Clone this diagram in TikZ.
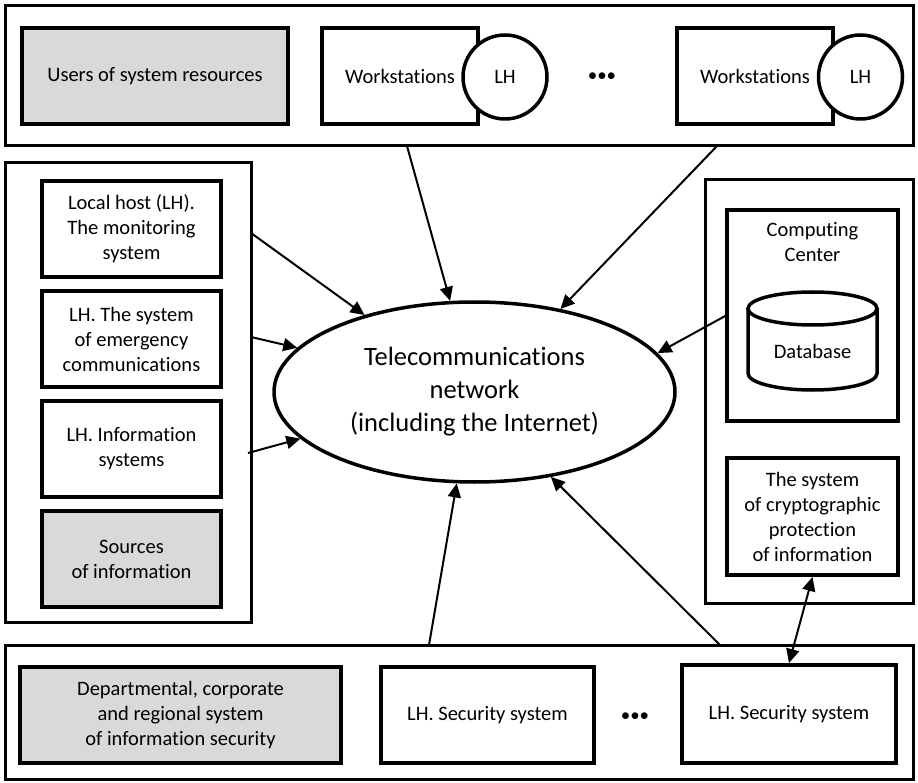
\documentclass[tikz,border=0pt]{standalone}
\usepackage{fontspec}
\setmainfont{Carlito}[Ligatures=NoCommon]
\usetikzlibrary{arrows.meta,shapes.geometric}
\definecolor{boxgray}{HTML}{D9D9D9}
\begin{document}
\begin{tikzpicture}[x=1pt,y=-1pt,
  outerbox/.style={draw,line width=3pt,inner sep=0pt,fill=white},
  innerbox/.style={draw,line width=4pt,inner sep=0pt,align=center,fill=white,
    font=\fontsize{20.5}{25}\selectfont},
  graybox/.style={innerbox,fill=boxgray},
  lhcircle/.style={circle,draw,line width=3.5pt,fill=white,inner sep=0pt,
    minimum size=84pt,font=\fontsize{20.5}{25}\selectfont},
  plain/.style={inner sep=0pt,align=center,font=\fontsize{20.5}{25}\selectfont},
  dotsnode/.style={inner sep=0pt,font=\fontsize{19}{25}\selectfont},
  arr/.style={line width=2pt,-{Triangle[length=14pt,width=13pt]}},
  darr/.style={line width=2pt,{Triangle[length=14pt,width=13pt]}-{Triangle[length=14pt,width=13pt]}}
]
\useasboundingbox (0,0) rectangle (918,783);
\fill[white] (0,0) rectangle (918,783);

% outer boxes
\node[outerbox,minimum width=908pt,minimum height=140pt] (top) at (459,76) {};
\node[outerbox,minimum width=246pt,minimum height=459pt] (left) at (128,392.5) {};
\node[outerbox,minimum width=208pt,minimum height=423pt] (right) at (809,391.5) {};
\node[outerbox,minimum width=908pt,minimum height=134pt] (bottom) at (459,712) {};

% top row
\node[graybox,minimum width=266pt,minimum height=96pt] (users) at (155,76) {Users of system resources};
\node[innerbox,minimum width=156pt,minimum height=96pt] (ws1) at (400,76) {Workstations};
\node[lhcircle] (c1) at (505,77) {LH};
\node[dotsnode] (dots1) at (602,77) {•••};
\node[innerbox,minimum width=156pt,minimum height=96pt] (ws2) at (755,76) {Workstations};
\node[lhcircle] (c2) at (860.5,77) {LH};

% left column
\node[innerbox,minimum width=179pt,minimum height=96pt] (lh1) at (131.5,229) {Local host (LH).\\The monitoring\\system};
\node[innerbox,minimum width=179pt,minimum height=96pt] (lh2) at (131.5,339) {LH. The system\\of emergency\\communications};
\node[innerbox,minimum width=179pt,minimum height=96pt] (lh3) at (131.5,449) {LH. Information\\systems};
\node[graybox,minimum width=179pt,minimum height=96pt] (src) at (131.5,559) {Sources\\of information};

% network
\node[ellipse,draw,line width=3.5pt,minimum width=401pt,minimum height=180pt,inner sep=0pt,
  align=center,font=\fontsize{26.5}{33}\selectfont] (net) at (474.5,392)
  {Telecommunications\\network\\(including the Internet)};

% right column
\node[innerbox,minimum width=171pt,minimum height=211pt] (cc) at (812.5,315.5) {};
\node[plain] (cctext) at (812.5,242) {Computing\\Center};
\draw[line width=3.5pt,fill=white] (748,308.5) -- (748,373.5)
  arc[start angle=180,end angle=360,x radius=64.5pt,y radius=16.5pt] -- (877,308.5);
\draw[line width=3.5pt] (812.5,308.5) ellipse[x radius=64.5pt,y radius=16.5pt];
\node[plain] (db) at (812.5,351) {Database};
\node[innerbox,minimum width=171pt,minimum height=117pt] (crypto) at (812.5,516.5)
  {The system\\of cryptographic\\protection\\of information};

% bottom row
\node[graybox,minimum width=321pt,minimum height=96pt] (dept) at (180.5,715)
  {Departmental, corporate\\and regional system\\of information security};
\node[innerbox,minimum width=213pt,minimum height=96pt] (sec1) at (487.5,715) {LH. Security system};
\node[dotsnode] (dots2) at (635,717) {•••};
\node[innerbox,minimum width=214pt,minimum height=98pt] (sec2) at (789,714) {LH. Security system};

% connector start points
\coordinate (s1) at (407,146);
\coordinate (s2) at (717,146);
\coordinate (s3) at (251,233);
\coordinate (s4) at (251,337);
\coordinate (s5) at (248,453);
\coordinate (s6) at (727,315);
\coordinate (s7) at (429,645);
\coordinate (s8) at (720,645);

\draw[arr] (s1) -- (net.105);
\draw[arr] (s2) -- (net.44.5);
\draw[arr] (s3) -- (net.145);
\draw[arr] (s4) -- (net.166);
\draw[arr] (s5) -- (net.195.5);
\draw[arr] (s6) -- (net.12);
\draw[arr] (s7) -- (net.259);
\draw[arr] (s8) -- (net.312);
\draw[darr] (crypto.south) -- (sec2.north);
\end{tikzpicture}
\end{document}
